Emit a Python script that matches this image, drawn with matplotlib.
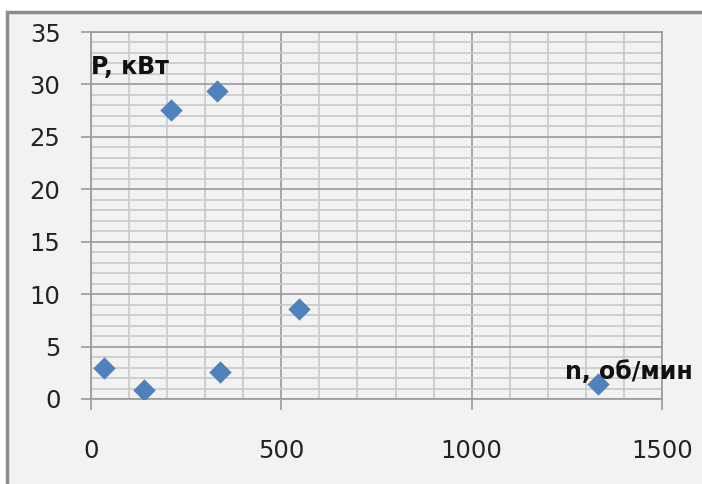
import numpy as np
import matplotlib
matplotlib.use("Agg")
import matplotlib.pyplot as plt
from matplotlib.patches import Rectangle

# Data
n_rpm = [34, 138, 209, 331, 340, 546, 1333]
p_kw = [3.0, 0.9, 27.6, 29.4, 2.6, 8.6, 1.4]

x_ticks = [0, 500, 1000, 1500]
y_ticks = [0, 5, 10, 15, 20, 25, 30, 35]

plt.rcParams["font.family"] = ["DejaVu Sans"]

bg = "#f2f2f2"
fig = plt.figure(figsize=(7.02, 4.84), dpi=100, facecolor="white")

# outer chart frame (Excel-like)
frame = Rectangle((7 / 702, -0.1), 1.2, 1 - 12 / 484 + 0.1,
                  transform=fig.transFigure, facecolor=bg,
                  edgecolor="#8c8c8c", linewidth=2.5, zorder=-10)
fig.patches.append(frame)

ax = fig.add_axes([91 / 702, 85 / 484, 571 / 702, 367 / 484])
ax.set_facecolor(bg)

ax.set_xlim(0, 1500)
ax.set_ylim(0, 35)
ax.set_xticks(x_ticks)
ax.set_yticks(y_ticks)
ax.set_xticks(np.arange(0, 1501, 100), minor=True)
ax.set_yticks(np.arange(0, 36, 1), minor=True)

ax.grid(which="minor", color="#c8c8c8", linewidth=1.2)
ax.grid(which="major", color="#9a9a9a", linewidth=1.2)
ax.set_axisbelow(True)

for s in ax.spines.values():
    s.set_color("#9a9a9a")
    s.set_linewidth(1.2)

ax.tick_params(which="minor", length=0)
ax.tick_params(axis="y", which="major", length=7, width=1.2, color="#9a9a9a",
               pad=15, labelsize=17.5, labelcolor="#222222")
ax.tick_params(axis="x", which="major", length=8, width=1.2, color="#9a9a9a",
               pad=21, labelsize=17.5, labelcolor="#222222")

ax.scatter(n_rpm, p_kw, marker="D", s=130, color="#4f81bd", zorder=3,
           linewidths=0)

ax.text(0, 31.0, "P, кВт", fontsize=17, fontweight="bold", ha="left",
        va="baseline", color="#111111", clip_on=False)
ax.text(1245, 1.9, "n, об/мин", fontsize=17, fontweight="bold", ha="left",
        va="baseline", color="#111111", clip_on=False, zorder=4)

fig.savefig("out.png", dpi=100, facecolor=fig.get_facecolor())
